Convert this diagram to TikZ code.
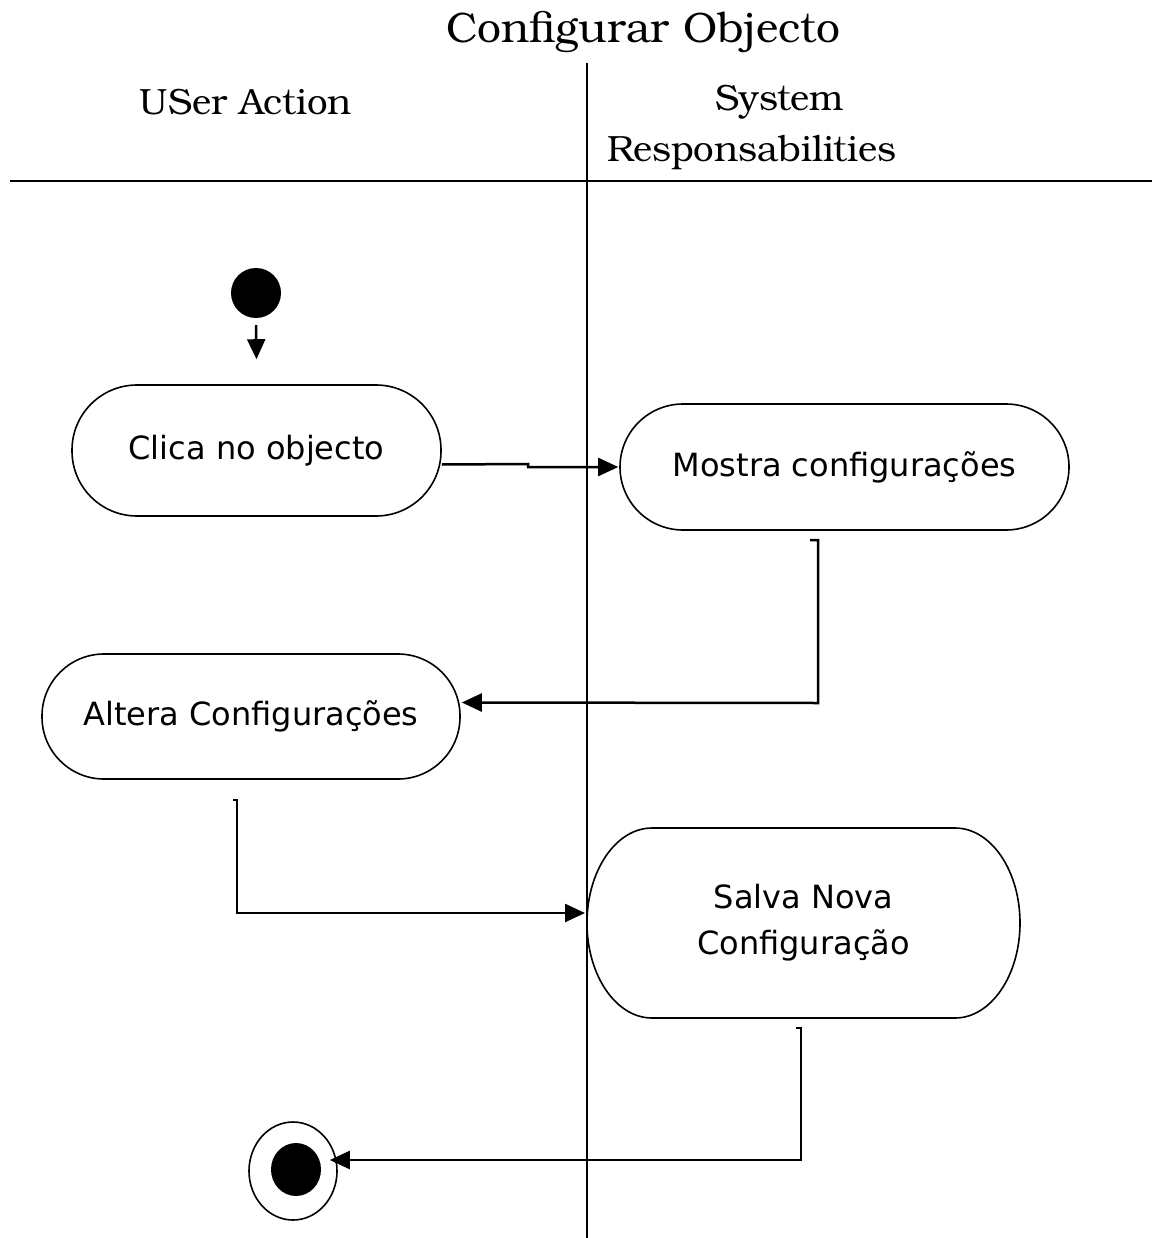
\documentclass[tikz,border=0pt]{standalone}
\usepackage{fontspec}
\setsansfont{DejaVu Sans}
\usetikzlibrary{arrows.meta,shapes.geometric}
% Bookman-like serif for the title and lane headers
\newfontfamily\bookface{TeX Gyre Bonum}

\begin{document}
\begin{tikzpicture}[x=1pt,y=-1pt,
  act/.style={draw,line width=1.6pt,inner sep=0pt,align=center,
    font=\sffamily\fontsize{32}{46}\selectfont},
  hdr/.style={inner sep=0pt,font=\bookface\fontsize{36.5}{42}\selectfont},
  flow/.style={line width=2.5pt,-{Triangle[length=20pt,width=18pt]}},
  lane/.style={line width=2.4pt}]
\useasboundingbox (0,0) rectangle (1152,1238);

% title and swimlane headers
\node[inner sep=0pt,font=\bookface\fontsize{42.5}{50}\selectfont] (title) at (643,32) {Configurar Objecto};
\node[hdr] (user) at (246,102) {USer Action};
\node[hdr] (sys1) at (780,102) {System};
\node[hdr] (sys2) at (752,153) {Responsabilities};

% lane separators
\draw[lane] (587,63) -- (587,1238);
\draw[lane] (10,181) -- (1152,181);

% initial and final states
\node[circle,fill,minimum size=50pt,inner sep=0pt] (start) at (256,293) {};
\node[ellipse,draw,line width=1.6pt,minimum width=88pt,minimum height=98pt,inner sep=0pt] (end) at (293,1171) {};
\node[ellipse,fill,minimum width=50pt,minimum height=53pt,inner sep=0pt] (endin) at (296,1169.5) {};

% activities
\node[act,minimum width=369pt,minimum height=131pt,rounded corners=65pt] (clica) at (256.5,450.5) {Clica no objecto};
\node[act,minimum width=449pt,minimum height=126pt,rounded corners=63pt] (mostra) at (844.5,467) {Mostra configurações};
\node[act,minimum width=418pt,minimum height=125pt,rounded corners=62pt] (altera) at (251,716.5) {Altera Configurações};
\node[act,draw=none,outer sep=0pt,minimum width=433pt,minimum height=190pt] (salva) at (803.5,923) {Salva Nova\\Configuração};
% tall activity: ends are half-ellipses
\draw[line width=1.6pt] ([xshift=65pt]salva.north west) -- ([xshift=-65pt]salva.north east)
  arc[start angle=90,end angle=-90,x radius=65pt,y radius=95pt]
  -- ([xshift=65pt]salva.south west)
  arc[start angle=270,end angle=90,x radius=65pt,y radius=95pt] -- cycle;

% transitions
\draw[flow] ([yshift=-7pt]start.south) -- ([yshift=25pt]clica.north);
\draw[flow] ([yshift=-14pt]clica.east) -- (528,464) -- (528,467) -- ([xshift=-1pt]mostra.west);
\coordinate (a2) at (810,540);
\draw[flow] (a2) -- (818,540) -- (818,703) -- ([xshift=1pt,yshift=14pt]altera.east);
\coordinate (a3) at (233,800);
\draw[flow] (a3) -- (237,800) -- (237,913) -- ([xshift=-2pt,yshift=10pt]salva.west);
\coordinate (a4) at (796,1028);
\draw[flow] (a4) -- (801,1028) -- (801,1160) -- ([xshift=-8pt,yshift=11pt]end.east);
\end{tikzpicture}
\end{document}
